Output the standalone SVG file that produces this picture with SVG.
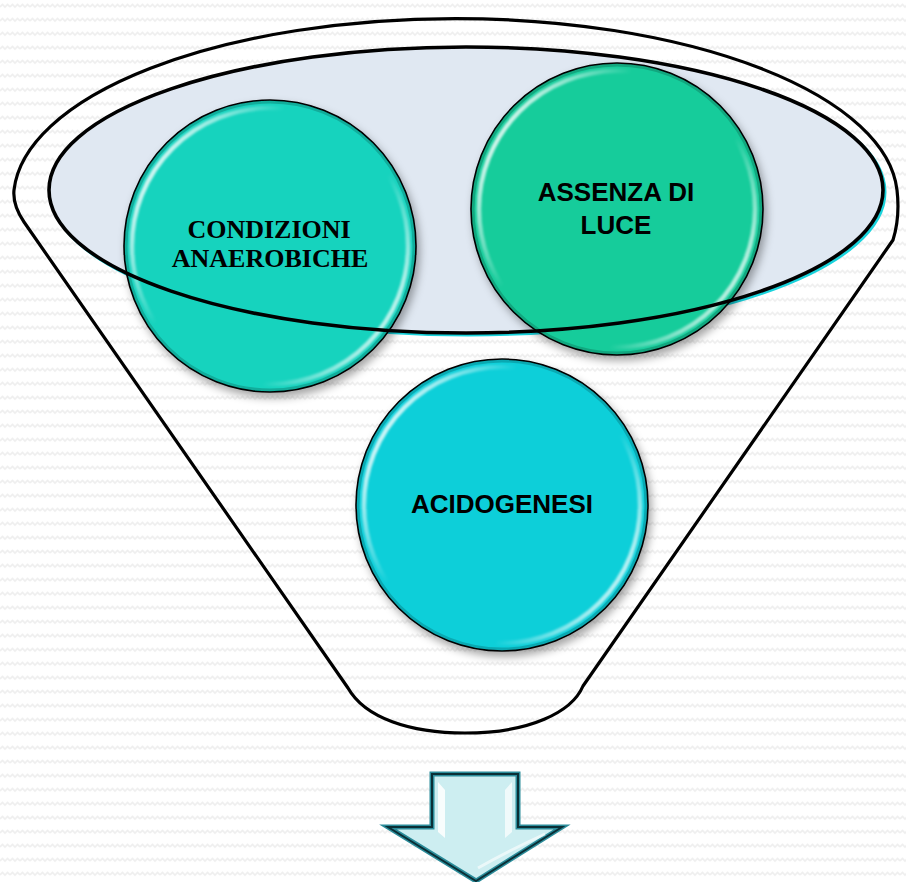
<svg xmlns="http://www.w3.org/2000/svg" width="906" height="882" viewBox="0 0 906 882">
  <defs>
    <!-- faint zigzag paper texture -->
    <pattern id="paper" width="10" height="14" patternUnits="userSpaceOnUse">
      <rect width="10" height="14" fill="#ffffff"/>
      <path d="M0,7 L2.5,4.5 L5,7 L7.5,4.5 L10,7" fill="none" stroke="#efefef" stroke-width="1.6"/>
    </pattern>
    <filter id="shadow" x="-20%" y="-20%" width="140%" height="140%">
      <feDropShadow dx="3" dy="5" stdDeviation="4" flood-color="#000" flood-opacity="0.35"/>
    </filter>
    <filter id="soft" x="-10%" y="-10%" width="120%" height="120%">
      <feGaussianBlur stdDeviation="1"/>
    </filter>
    <!-- rim highlight for the bevelled discs -->
    <linearGradient id="rim" x1="0" y1="0.2" x2="1" y2="0.8">
      <stop offset="0" stop-color="#fff" stop-opacity="1"/>
      <stop offset="0.32" stop-color="#fff" stop-opacity="0"/>
      <stop offset="0.7" stop-color="#fff" stop-opacity="0"/>
      <stop offset="1" stop-color="#fff" stop-opacity="0.9"/>
    </linearGradient>
    <style>
      .outline { fill: none; stroke: #000; stroke-width: 3.2; stroke-linejoin: round; }
      .disc { stroke: #000; stroke-width: 1.6; }
      .rim { fill: none; stroke: url(#rim); stroke-width: 4.5; }
      .edge { fill: none; stroke: #000; stroke-opacity: 0.18; stroke-width: 3; }
      .serif { font-family: "Liberation Serif", "Times New Roman", serif; font-weight: bold; font-size: 26px; text-anchor: middle; fill: #000; }
      .sans { font-family: "Liberation Sans", Arial, sans-serif; font-weight: bold; font-size: 26px; text-anchor: middle; fill: #000; }
    </style>
  </defs>

  <rect width="906" height="882" fill="url(#paper)"/>

  <!-- funnel outline -->
  <g id="funnel">
    <path class="outline" d="M14,190 A442,180 0 0 1 897,190 C899,207 898,224 893,240 L583,686 C572,712 530,733 465,733 C410,733 365,718 348,688 L24,222 C16,210 13,200 14,190 Z"/>
  </g>

  <!-- mouth of the funnel: fill -->
  <g id="mouth">
    <ellipse cx="468" cy="192" rx="417" ry="143" fill="none" stroke="#19d3dc" stroke-width="3"/>
    <ellipse cx="466" cy="190" rx="417" ry="143" fill="#e0e8f2"/>
  </g>

  <g id="node-condizioni">
    <circle class="disc" cx="270" cy="246" r="146" fill="#12d3be" filter="url(#shadow)"/>
    <circle class="edge" cx="270" cy="246" r="144"/>
    <circle class="rim" cx="270" cy="246" r="138" filter="url(#soft)"/>
    <text class="serif" x="269" y="238">CONDIZIONI</text>
    <text class="serif" x="270" y="267">ANAEROBICHE</text>
  </g>

  <g id="node-assenza">
    <circle class="disc" cx="617" cy="209" r="146" fill="#15cc9b" filter="url(#shadow)"/>
    <circle class="edge" cx="617" cy="209" r="144"/>
    <circle class="rim" cx="617" cy="209" r="138" filter="url(#soft)"/>
    <text class="sans" x="616" y="201">ASSENZA DI</text>
    <text class="sans" x="616" y="234">LUCE</text>
  </g>

  <g id="node-acidogenesi">
    <circle class="disc" cx="502" cy="505" r="146" fill="#0ecfd9" filter="url(#shadow)"/>
    <circle class="edge" cx="502" cy="505" r="144"/>
    <circle class="rim" cx="502" cy="505" r="138" filter="url(#soft)"/>
    <text class="sans" x="502" y="513">ACIDOGENESI</text>
  </g>

  <!-- mouth of the funnel: rim drawn over the discs -->
  <g id="mouth-rim">
    <ellipse cx="466" cy="190" rx="417" ry="143" fill="none" stroke="#000" stroke-width="3.6"/>
  </g>

  <!-- block arrow pointing down -->
  <g id="connectors">
    <g id="arrow">
      <polygon points="432,774 518,774 518,827 562,827 476,881 388,827 432,827" fill="#cdeef1" stroke="#2b8c9a" stroke-width="5" stroke-linejoin="miter"/>
      <polygon points="432,774 518,774 518,827 562,827 476,881 388,827 432,827" fill="none" stroke="#0a2f36" stroke-width="2" stroke-linejoin="miter"/>
      <path d="M438,782 L445,790 L445,838 L438,832 Z" fill="#ffffff" opacity="0.85"/>
      <path d="M512,782 L505,790 L505,838 L512,832 Z" fill="#ffffff" opacity="0.7"/>
      <path d="M478,868 Q510,850 545,834" fill="none" stroke="#ffffff" stroke-width="3" opacity="0.6"/>
    </g>
  </g>
</svg>
